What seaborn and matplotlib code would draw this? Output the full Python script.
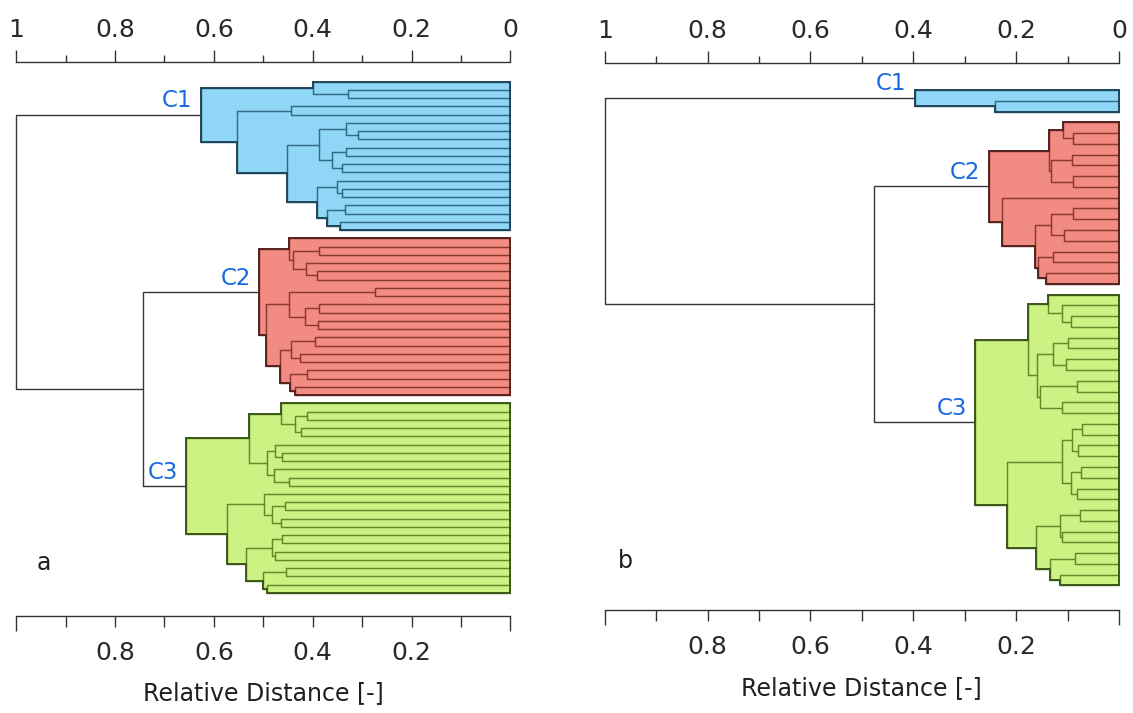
import matplotlib
matplotlib.use("Agg")
import matplotlib.pyplot as plt
from matplotlib.ticker import FixedLocator
import pandas as pd
import seaborn as sns

o = None  # a single sample (leaf)

# Cluster trees, listed top to bottom as (upper branch, lower branch, relative distance)
a_c1 = (
    (o, (o, o, .328), .399),
    ((o, o, .443),
     (((o, (o, o, .308), .333), ((o, o, .333), (o, o, .341), .360), .387),
      ((o, (o, o, .341), .351), ((o, o, .335), (o, o, .345), .371), .392),
      .453),
     .554),
    .626)
a_c2 = (
    (o, ((o, o, .387), (o, (o, o, .392), .414), .439), .449),
    (((o, o, .274), ((o, o, .387), (o, o, .389), .416), .447),
     (((o, o, .395), (o, o, .426), .443), ((o, o, .412), (o, o, .436), .445), .466),
     .495),
    .508)
a_c3 = (
    ((o, ((o, o, .411), (o, o, .424), .436), .464),
     ((o, (o, o, .462), .476), (o, (o, o, .449), .478), .493),
     .529),
    ((o, ((o, o, .456), (o, o, .464), .482), .498),
     (((o, o, .463), (o, o, .476), .483), ((o, o, .454), (o, o, .493), .500), .535),
     .574),
    .656)
a_joins = [0.743, 1.0]  # C2 with C3, then C1 with both

b_c1 = (o, (o, o, .242), .397)
b_c2 = (
    ((o, (o, o, .089), .108), ((o, o, .092), (o, o, .089), .133), .136),
    (o, (((o, o, .089), (o, o, .107), .133), ((o, o, .129), (o, o, .141), .157), .163), .228),
    .253)
b_c3 = (
    ((o, (o, (o, o, .094), .111), .139),
     (((o, o, .099), (o, o, .103), .128), ((o, o, .082), (o, o, .111), .154), .159),
     .176),
    ((((o, o, .071), (o, o, .079), .092), ((o, o, .073), (o, o, .082), .094), .111),
     (((o, o, .076), (o, o, .110), .115), ((o, o, .085), (o, o, .115), .134), .162),
     .218),
    .280)
b_joins = [0.476, 1.0]

cluster_names = ["C1", "C2", "C3"]
panel_names = ["a", "b"]
cluster_fill = ["#8fd6f7", "#f28b81", "#cbf283"]
cluster_link = ["#336a84", "#8a3831", "#628a28"]
cluster_edge = ["#20465a", "#56231f", "#3b581a"]
label_color = "#1769e0"
join_color = "#363636"

top_ticks = [1.0, 0.8, 0.6, 0.4, 0.2, 0.0]
top_labels = ["1", "0.8", "0.6", "0.4", "0.2", "0"]
top_minor = [0.9, 0.7, 0.5, 0.3, 0.1]
bottom_ticks = [0.9, 0.8, 0.7, 0.6, 0.5, 0.4, 0.3, 0.2, 0.1]
bottom_labels = ["", "0.8", "", "0.6", "", "0.4", "", "0.2", ""]
bottom_ends = [1.0, 0.0]
x_label = "Relative Distance [-]"


def walk(node, start, links, boxes):
    """Lay out a tree with leaves at consecutive integer rows."""
    if node is None:
        return 0.0, float(start), start + 1
    upper, lower, h = node
    h1, y1, nxt = walk(upper, start, links, boxes)
    h2, y2, nxt = walk(lower, nxt, links, boxes)
    links.append([(h1, y1), (h, y1), (h, y2), (h2, y2)])
    boxes.append((h, y1, y2))
    return h, (y1 + y2) / 2, nxt


def envelope(boxes):
    """Outline of the union of the merge boxes, running down the left side."""
    ys = sorted({v for _, a, b in boxes for v in (a, b)})
    xs, yy = [], []
    for y0, y1 in zip(ys[:-1], ys[1:]):
        w = max(h for h, a, b in boxes if a <= y0 and b >= y1)
        xs += [w, w]
        yy += [y0, y1]
    xs += [0.0, 0.0]
    yy += [ys[-1], ys[0]]
    return xs, yy


def segments_frame(segs):
    rows = [(px, py, i) for i, seg in enumerate(segs) for px, py in seg]
    return pd.DataFrame(rows, columns=["dist", "row", "link"])


def draw_panel(ax, trees, joins, rows_range, name, name_pos):
    start = 0
    roots = []
    for k, tree in enumerate(trees):
        links, boxes = [], []
        h, y, start = walk(tree, start, links, boxes)
        roots.append((h, y))
        xs, ys = envelope(boxes)
        ax.fill(xs, ys, facecolor=cluster_fill[k], edgecolor="none",
                zorder=1, clip_on=False)
        sns.lineplot(data=segments_frame(links), x="dist", y="row", units="link",
                     estimator=None, sort=False, color=cluster_link[k], lw=1.05,
                     ax=ax, legend=False, zorder=2, clip_on=False)
        ax.plot(xs + [xs[0]], ys + [ys[0]], color=cluster_edge[k], lw=1.4,
                zorder=3, clip_on=False, solid_joinstyle="miter")

    (h1, y1), (h2, y2), (h3, y3) = roots
    y23 = (y2 + y3) / 2
    joins_segs = [[(h2, y2), (joins[0], y2), (joins[0], y3), (h3, y3)],
                  [(h1, y1), (joins[1], y1), (joins[1], y23), (joins[0], y23)]]
    sns.lineplot(data=segments_frame(joins_segs), x="dist", y="row", units="link",
                 estimator=None, sort=False, color=join_color, lw=1.0,
                 ax=ax, legend=False, zorder=2, clip_on=False)

    for (h, y), lab in zip(roots, cluster_names):
        ax.annotate(lab, xy=(h, y), xytext=(-6, 5.5), textcoords="offset points",
                    ha="right", va="baseline", fontsize=16.5, color=label_color,
                    zorder=4, bbox=dict(facecolor="white", edgecolor="none", pad=0.3))

    ax.set_xlim(1, 0)
    ax.set_ylim(*rows_range)
    ax.set_yticks([])
    ax.set_ylabel("")
    for s in ["left", "right", "top"]:
        ax.spines[s].set_visible(False)
    ax.spines["bottom"].set_linewidth(1.0)
    ax.spines["bottom"].set_color("#333333")

    ax.set_xticks(bottom_ticks, labels=bottom_labels)
    ax.xaxis.set_minor_locator(FixedLocator(bottom_ends))
    ax.tick_params(axis="x", which="major", bottom=True, direction="out", length=8,
                   width=1.0, pad=10, labelsize=18, colors="#333333",
                   labelcolor="#2a2a2a")
    ax.tick_params(axis="x", which="minor", bottom=True, direction="out", length=11,
                   width=1.0, colors="#333333")
    ax.set_xlabel(x_label, fontsize=17, labelpad=12, color="#1f1f1f")

    sec = ax.secondary_xaxis("top")
    sec.set_xticks(top_ticks, labels=top_labels)
    sec.xaxis.set_minor_locator(FixedLocator(top_minor))
    sec.tick_params(axis="x", which="major", top=True, labeltop=True, direction="out",
                    length=8.5, width=1.0, pad=6, labelsize=18, colors="#333333",
                    labelcolor="#2a2a2a")
    sec.tick_params(axis="x", which="minor", top=True, direction="out", length=5,
                    width=1.0, colors="#333333")
    sec.spines["top"].set_linewidth(1.0)
    sec.spines["top"].set_color("#333333")

    ax.text(name_pos[0], name_pos[1], name, transform=ax.transAxes, ha="center",
            va="center", fontsize=17, color="#1f1f1f")


sns.set_theme(style="white")
plt.rcParams["font.family"] = ["DejaVu Sans"]

W, H = 1133, 713
fig = plt.figure(figsize=(W / 100, H / 100), dpi=100)
ax_a = fig.add_axes([16.2 / W, 1 - 615.7 / H, 494.2 / W, (615.7 - 61.7) / H])
ax_b = fig.add_axes([604.7 / W, 1 - 610.0 / H, 514.3 / W, (610.0 - 62.7) / H])

draw_panel(ax_a, [a_c1, a_c2, a_c3], a_joins, (64.76, -2.43), panel_names[0], (0.055, 0.095))
draw_panel(ax_b, [b_c1, b_c2, b_c3], b_joins, (48.28, -2.535), panel_names[1], (0.041, 0.09))

fig.savefig("out.png", dpi=100)
